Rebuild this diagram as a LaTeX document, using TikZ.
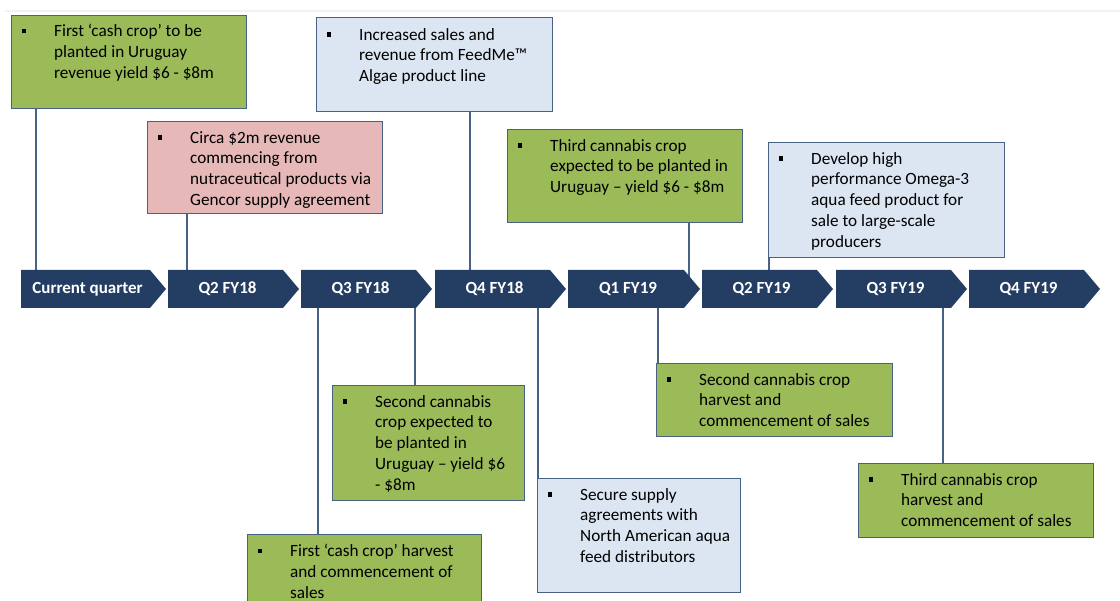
\documentclass[tikz,border=0pt]{standalone}
\usepackage{fontspec}
\setmainfont{Carlito}
\usetikzlibrary{backgrounds}

\definecolor{barblue}{HTML}{243E63}
\definecolor{cropgreen}{HTML}{9BBB59}
\definecolor{salespink}{HTML}{E6B9B8}
\definecolor{feedblue}{HTML}{DCE6F2}
\definecolor{edgeblue}{HTML}{4A6186}

\tikzset{
    quarter/.style={minimum height=38, inner sep=0pt, text=white,
        font=\fontsize{17}{20}\selectfont\bfseries},
    note/.style={draw=edgeblue, line width=1.2pt, anchor=north west, inner sep=0pt},
    notetext/.style={anchor=north west, align=left, inner sep=0pt,
        font=\fontsize{17.2}{20.8}\selectfont},
    link/.style={draw=edgeblue, line width=1.2pt},
}
\newcommand\bul{\llap{\rule[3.4pt]{4.5pt}{4.5pt}\hspace{28pt}}}

\begin{document}
\begin{tikzpicture}[x=1pt,y=-1pt]
    \useasboundingbox (0,0) rectangle (1120,601);

    % Faint rule along the top
    \draw[gray!10, line width=2pt] (5,11) -- (1120,11);

    % Timeline
    \def\tip{16}
    \foreach \i/\x/\w/\lab in {1/21/145/Current quarter, 2/168/131/Q2 FY18,
        3/301/131/Q3 FY18, 4/435/131/Q4 FY18, 5/568/132/Q1 FY19,
        6/702/131/Q2 FY19, 7/836/131/Q3 FY19, 8/969/131/Q4 FY19}{
        \fill[barblue] (\x,270) -- ({\x+\w-\tip},270) -- ({\x+\w},289)
            -- ({\x+\w-\tip},308) -- (\x,308) -- cycle;
        \node[quarter, minimum width={\w-\tip}] (q\i) at ({\x+(\w-\tip)/2+2},289) {\lab};
    }

    % Notes above the timeline
    \node[note, fill=cropgreen, minimum width=235, minimum height=93] (plantA) at (11,15) {};
    \node[notetext] (plantAtxt) at ([shift={(43,9)}]plantA.north west)
        {\bul First ‘cash crop’ to be\\planted in Uruguay\\revenue yield \$6 - \$8m};

    \node[note, fill=salespink, minimum width=235, minimum height=92] (gencor) at (147,121) {};
    \node[notetext] (gencortxt) at ([shift={(43,10)}]gencor.north west)
        {\bul Circa \$2m revenue\\commencing from\\nutraceutical products via\\Gencor supply agreement};

    \node[note, fill=feedblue, minimum width=236, minimum height=94] (feedme) at (316,17) {};
    \node[notetext] (feedmetxt) at ([shift={(43,11)}]feedme.north west)
        {\bul Increased sales and\\revenue from FeedMe™\\Algae product line};

    \node[note, fill=cropgreen, minimum width=235, minimum height=93] (plantC) at (507,129) {};
    \node[notetext] (plantCtxt) at ([shift={(43,10)}]plantC.north west)
        {\bul Third cannabis crop\\expected to be planted in\\Uruguay – yield \$6 - \$8m};

    \node[note, fill=feedblue, minimum width=236, minimum height=115] (omega) at (768,142) {};
    \node[notetext] (omegatxt) at ([shift={(43,10)}]omega.north west)
        {\bul Develop high\\performance Omega-3\\aqua feed product for\\sale to large-scale\\producers};

    % Notes below the timeline
    \node[note, fill=cropgreen, minimum width=192, minimum height=115] (plantB) at (332,385) {};
    \node[notetext] (plantBtxt) at ([shift={(43,10)}]plantB.north west)
        {\bul Second cannabis\\crop expected to\\be planted in\\Uruguay – yield \$6\\- \$8m};

    \node[note, fill=cropgreen, minimum width=234, minimum height=82] (harvestA) at (247,534) {};
    \node[notetext] (harvestAtxt) at ([shift={(43,10)}]harvestA.north west)
        {\bul First ‘cash crop’ harvest\\and commencement of\\sales};

    \node[note, fill=feedblue, minimum width=203, minimum height=114] (supply) at (537,478) {};
    \node[notetext] (supplytxt) at ([shift={(43,10)}]supply.north west)
        {\bul Secure supply\\agreements with\\North American aqua\\feed distributors};

    \node[note, fill=cropgreen, minimum width=236, minimum height=73] (harvestB) at (656,363) {};
    \node[notetext] (harvestBtxt) at ([shift={(43,10)}]harvestB.north west)
        {\bul Second cannabis crop\\harvest and\\commencement of sales};

    \node[note, fill=cropgreen, minimum width=235, minimum height=74] (harvestC) at (858,463) {};
    \node[notetext] (harvestCtxt) at ([shift={(43,10)}]harvestC.north west)
        {\bul Third cannabis crop\\harvest and\\commencement of sales};

    % Connectors (behind the bar)
    \begin{scope}[on background layer]
        \draw[link] (36,0 |- plantA.south) -- (36,0 |- q1.center);
        \draw[link] (187,0 |- gencor.south) -- (187,0 |- q2.center);
        \draw[link] (470,0 |- feedme.south) -- (470,0 |- q4.center);
        \draw[link] (689,0 |- plantC.south) -- (689,0 |- q5.center);
        \draw[link] (769,0 |- omega.south) -- (769,0 |- q6.center);
        \draw[link] (318,0 |- q3.center) -- (318,0 |- harvestA.north);
        \draw[link] (415,0 |- q3.center) -- (415,0 |- plantB.north);
        \draw[link] (538,0 |- q4.center) -- (538,0 |- supply.north);
        \draw[link] (658,0 |- q5.center) -- (658,0 |- harvestB.north);
        \draw[link] (943,0 |- q7.center) -- (943,0 |- harvestC.north);
    \end{scope}

\end{tikzpicture}
\end{document}
